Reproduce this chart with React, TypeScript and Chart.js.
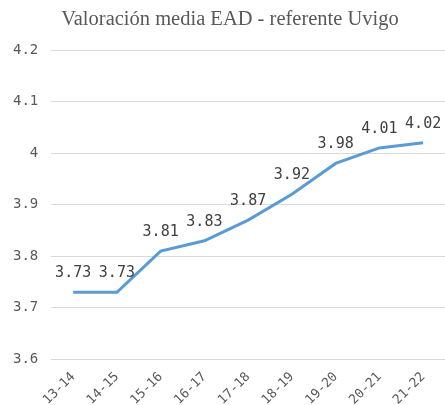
import React, { useEffect, useRef } from "react";
import { Chart, registerables } from "chart.js";

Chart.register(...registerables);

const categories = ["13-14", "14-15", "15-16", "16-17", "17-18", "18-19", "19-20", "20-21", "21-22"];
const values = [3.73, 3.73, 3.81, 3.83, 3.87, 3.92, 3.98, 4.01, 4.02];
const yMin = 3.6;
const yMax = 4.2;
const yStep = 0.1;
const titleText = "Valoración media EAD - referente Uvigo";

const valueLabels = {
  id: "valueLabels",
  afterDatasetsDraw(chart: any) {
    const ctx = chart.ctx;
    const meta = chart.getDatasetMeta(0);
    ctx.save();
    ctx.font = "15px 'DejaVu Sans Mono'";
    ctx.fillStyle = "#404040";
    ctx.textAlign = "center";
    ctx.textBaseline = "middle";
    meta.data.forEach((pt: any, i: number) => {
      ctx.fillText(values[i].toFixed(2), pt.x, pt.y - 19);
    });
    ctx.restore();
  },
};

const titlePlugin = {
  id: "customTitle",
  afterDraw(chart: any) {
    const ctx = chart.ctx;
    ctx.save();
    ctx.font = "20.5px 'Liberation Serif'";
    ctx.fillStyle = "#595959";
    ctx.textAlign = "center";
    ctx.textBaseline = "alphabetic";
    ctx.fillText(titleText, 230, 25);
    ctx.restore();
  },
};

export default function App() {
  const ref = useRef<HTMLCanvasElement | null>(null);
  useEffect(() => {
    document.body.style.margin = "0";
    document.body.style.overflow = "hidden";
    const chart = new Chart(ref.current as HTMLCanvasElement, {
      type: "line",
      data: {
        labels: categories,
        datasets: [
          {
            data: values,
            borderColor: "#5B9BD5",
            borderWidth: 3,
            pointRadius: 0,
            tension: 0,
            fill: false,
          },
        ],
      },
      options: {
        responsive: false,
        animation: false,
        layout: { padding: { left: 0, right: 0, top: 50, bottom: 0 } },
        plugins: {
          legend: { display: false },
          tooltip: { enabled: false },
          title: { display: false },
        },
        scales: {
          x: {
            offset: true,
            grid: { display: false },
            border: { display: false },
            ticks: {
              color: "#595959",
              font: { family: "'DejaVu Sans Mono'", size: 13 },
              maxRotation: 45,
              minRotation: 45,
              autoSkip: false,
              padding: 2,
            },
          },
          y: {
            min: yMin,
            max: yMax,
            grid: { color: "#d9d9d9", tickLength: 0, lineWidth: 1 },
            border: { display: false },
            ticks: {
              stepSize: yStep,
              color: "#595959",
              font: { family: "'DejaVu Sans Mono'", size: 14 },
              padding: 13,
              callback: (v: any) => String(Math.round(Number(v) * 10) / 10),
            },
          },
        },
      },
      plugins: [valueLabels, titlePlugin],
    });
    return () => chart.destroy();
  }, []);
  return <canvas ref={ref} width={445} height={410} style={{ display: "block" }} />;
}
